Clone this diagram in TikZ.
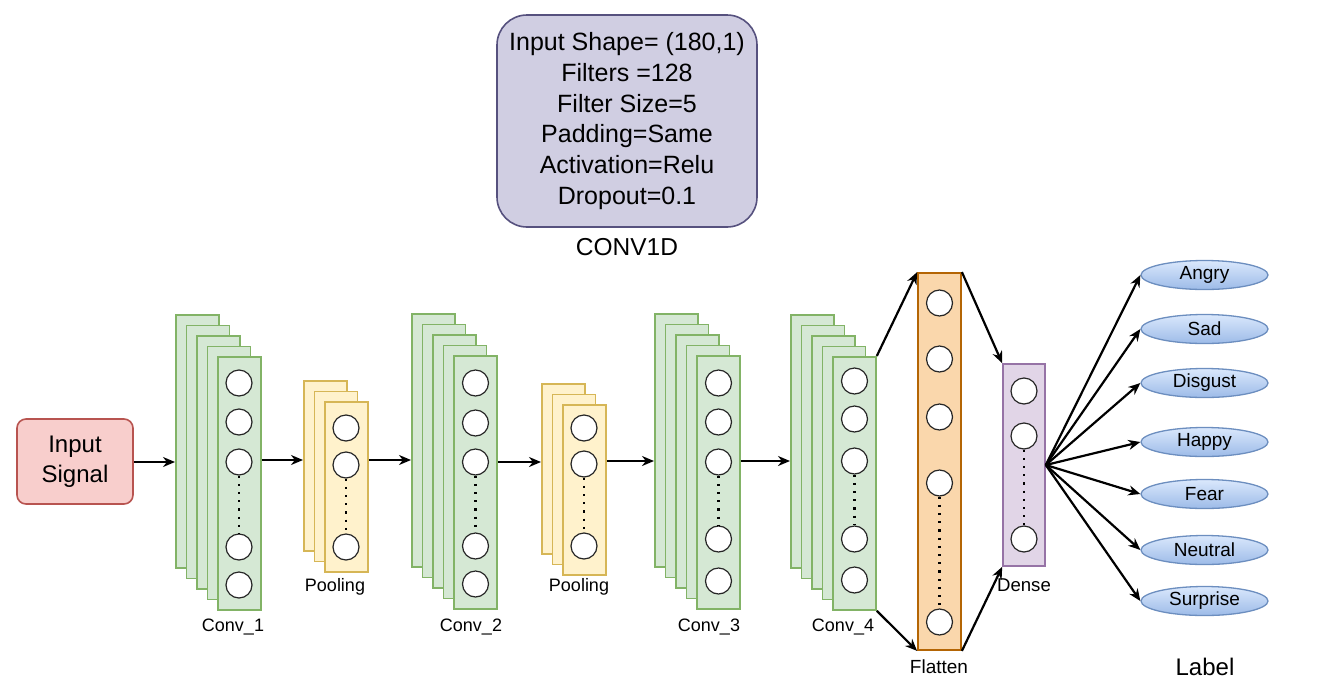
\documentclass[tikz,border=0pt]{standalone}
\usepackage{fontspec}
\setmainfont{Liberation Sans}
\usetikzlibrary{arrows.meta,shapes.geometric}
\definecolor{gfill}{HTML}{D5E8D4}
\definecolor{gline}{HTML}{82B366}
\definecolor{yfill}{HTML}{FFF2CC}
\definecolor{yline}{HTML}{D6B656}
\definecolor{ofill}{HTML}{FAD7AC}
\definecolor{oline}{HTML}{B46504}
\definecolor{pfill}{HTML}{E1D5E7}
\definecolor{pline}{HTML}{9673A6}
\definecolor{tfill}{HTML}{D0CEE2}
\definecolor{tline}{HTML}{56517E}
\definecolor{rfill}{HTML}{F8CECC}
\definecolor{rline}{HTML}{B85450}
\definecolor{btop}{HTML}{DAE8FC}
\definecolor{bbot}{HTML}{9DBBE8}
\definecolor{bline}{HTML}{6C8EBF}
\tikzset{
  lay/.style={draw, line width=1.8pt, minimum width=43pt, inner sep=0pt, anchor=north west},
  convl/.style={lay, fill=gfill, draw=gline, minimum height=253pt},
  pooll/.style={lay, fill=yfill, draw=yline, minimum height=170pt},
  neuron/.style={circle, draw=black!85, fill=white, line width=1.2pt, minimum size=26pt, inner sep=0pt},
  arr/.style={line width=2.2pt, -{Stealth[length=12pt,width=10pt]}},
  dots/.style={line width=2.2pt, dash pattern=on 2.2pt off 6pt},
  lbl/.style={font=\fontsize{18}{20}\selectfont, inner sep=0pt},
  lab/.style={ellipse, draw=bline, line width=1.3pt, top color=btop, bottom color=bbot, minimum width=127pt, minimum height=29pt, inner sep=0pt, font=\fontsize{19}{21}\selectfont}
}
\newcommand\convstack[3]{%
  \foreach \i in {0,...,3} \node[convl] (#1b\i) at ({#2+\i*10.5},{#3+\i*10.5}) {};
  \node[convl] (#1) at ({#2+42},{#3+42}) {};
}
\newcommand\poolstack[3]{%
  \foreach \i in {0,1} \node[pooll] (#1b\i) at ({#2+\i*10.5},{#3+\i*10.5}) {};
  \node[pooll] (#1) at ({#2+21},{#3+21}) {};
}
\begin{document}
\begin{tikzpicture}[x=1pt,y=-1pt]
\useasboundingbox (0,0) rectangle (1331,681);
% top box
\node[draw=tline, fill=tfill, line width=1.6pt, rounded corners=30pt, minimum width=260pt, minimum height=212pt, align=center, font=\fontsize{25}{30.7}\selectfont] (cfg) at (627,121) {Input Shape= (180,1)\\Filters =128\\Filter Size=5\\Padding=Same\\Activation=Relu\\Dropout=0.1};
\node[font=\fontsize{24.5}{26}\selectfont, inner sep=0pt] (cfgl) at (627,247) {CONV1D};
% input
\node[draw=rline, fill=rfill, line width=1.6pt, rounded corners=9pt, minimum width=116pt, minimum height=85pt, align=center, font=\fontsize{24}{30}\selectfont] (inp) at (75,461.5) {Input\\Signal};
% stacks
\convstack{c1}{175}{314}
\poolstack{p1}{303}{380}
\convstack{c2}{411}{313}
\poolstack{p2}{541}{383}
\convstack{c3}{654}{313}
\convstack{c4}{790}{314}
% neurons
\foreach \y [count=\k] in {383,422,462,547,585} \node[neuron] (c1n\k) at (239,\y) {};
\foreach \y [count=\k] in {428,465,547} \node[neuron] (p1n\k) at (346,\y) {};
\foreach \y [count=\k] in {383,423,462,546,584} \node[neuron] (c2n\k) at (475.5,\y) {};
\foreach \y [count=\k] in {428,464,546} \node[neuron] (p2n\k) at (584,\y) {};
\foreach \y [count=\k] in {383,422,462,539,581} \node[neuron] (c3n\k) at (718.5,\y) {};
\foreach \y [count=\k] in {381,419,461,539,580} \node[neuron] (c4n\k) at (854.5,\y) {};
\draw[dots] (c1n3.south) -- (c1n4.north);
\draw[dots] (p1n2.south) -- (p1n3.north);
\draw[dots] (c2n3.south) -- (c2n4.north);
\draw[dots] (p2n2.south) -- (p2n3.north);
\draw[dots] (c3n3.south) -- (c3n4.north);
\draw[dots] (c4n3.south) -- (c4n4.north);
% flatten
\node[draw=oline, fill=ofill, line width=1.8pt, minimum width=43pt, minimum height=377pt, inner sep=0pt] (flat) at (939.5,461.5) {};
\foreach \y [count=\k] in {303,359,417,483,622} \node[neuron] (fn\k) at (939.5,\y) {};
\draw[dots] (fn4.south) -- (fn5.north);
% dense
\node[draw=pline, fill=pfill, line width=1.6pt, minimum width=42pt, minimum height=202pt, inner sep=0pt] (dense) at (1024,465) {};
\foreach \y [count=\k] in {391,436,539} \node[neuron] (dn\k) at (1024,\y) {};
\draw[dots] (dn2.south) -- (dn3.north);
% labels under stacks
\node[lbl] (l1) at (233,627) {Conv\_1};
\node[lbl] (l2) at (335,587) {Pooling};
\node[lbl] (l3) at (471,627) {Conv\_2};
\node[lbl] (l4) at (579,587) {Pooling};
\node[lbl] (l5) at (709,627) {Conv\_3};
\node[lbl] (l6) at (843,627) {Conv\_4};
\node[lbl, font=\fontsize{19}{21}\selectfont] (l7) at (939,667) {Flatten};
\node[font=\fontsize{24}{26}\selectfont, inner sep=0pt] (l9) at (1205,667) {Label};
% output labels
\foreach \t/\y [count=\k] in {Angry/275,Sad/329,Disgust/383,Happy/442,Fear/494,Neutral/550,Surprise/601}
  \node[lab] (o\k) at (1204.5,\y) {\t};
% arrows
\draw[arr] (inp.east |- 0,462) -- (c1b0.west |- 0,462);
\draw[arr] (c1.east |- 0,460) -- (p1b0.west |- 0,460);
\draw[arr] (p1.east |- 0,460) -- (c2b0.west |- 0,460);
\draw[arr] (c2.east |- 0,462) -- (p2b0.west |- 0,462);
\draw[arr] (p2.east |- 0,461) -- (c3b0.west |- 0,461);
\draw[arr] (c3.east |- 0,461) -- (c4b0.west |- 0,461);
\draw[arr] (c4.north east) -- (flat.north west);
\draw[arr] (c4.south east) -- (flat.south west);
\draw[arr] (flat.north east) -- (dense.north west);
\draw[arr] (flat.south east) -- (dense.south west);
\foreach \k in {1,...,7} \draw[arr] (dense.east) -- (o\k.west);
\node[lbl, font=\fontsize{18.6}{20}\selectfont] (l8) at (1024,585) {Dense};
\end{tikzpicture}
\end{document}
